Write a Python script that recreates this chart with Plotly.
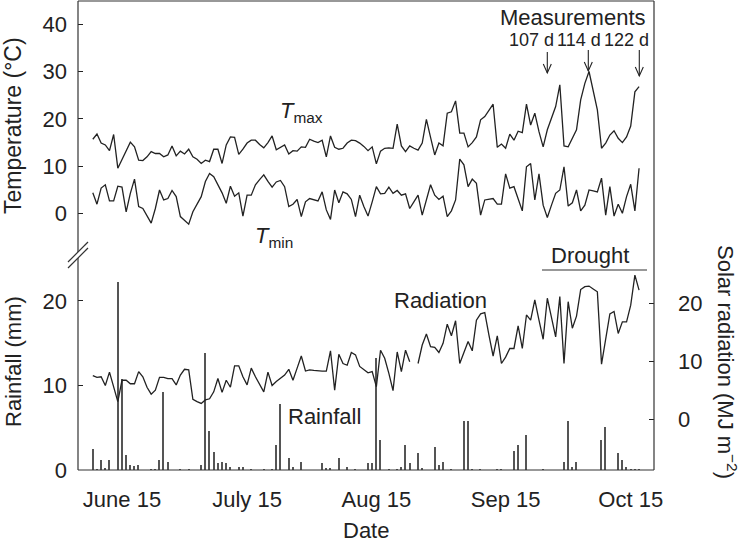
import plotly.graph_objects as go
import pandas as pd

# ---------------- data (daily, starting 8 June) ----------------
start_date = "2014-06-08"

tmax = [15.7, 16.8, 14.9, 14.5, 13.3, 16.7, 9.6, 11.5, 13.3, 15.1, 14.1, 11.3, 11.2, 12.0,
        13.1, 12.7, 12.7, 12.0, 12.4, 14.3, 12.2, 13.2, 12.6, 13.6, 12.0, 11.5,
        10.6, 11.3, 11.0, 13.6, 13.6, 10.6, 14.5, 16.2, 16.1, 12.5, 13.6, 14.9, 15.5, 15.5, 14.6,
        13.9, 15.0, 16.4, 13.5, 14.0, 14.5, 12.6, 13.3, 13.2, 14.1, 14.0, 15.7, 15.3,
        15.0, 15.5, 12.0, 16.4, 14.0, 13.6, 13.8, 14.9, 15.5, 15.4, 14.9, 14.2,
        13.3, 14.1, 10.5, 13.2, 13.8, 13.9, 13.8, 18.9, 14.3, 13.1, 14.3, 13.8,
        13.4, 14.9, 19.9, 16.1, 12.4, 14.9, 14.3, 21.2, 21.5, 23.8, 17.0, 17.0, 14.1, 15.0, 16.2, 19.8, 20.5, 21.8,
        23.1, 14.0, 14.7, 13.8, 16.8, 15.5, 17.4, 17.1, 23.1, 18.7, 21.2, 17.3, 14.1, 17.7, 20.2,
        22.6, 27.2, 14.3, 14.1, 15.9, 17.7, 24.0, 27.5, 30.0, 26.0,
        21.9, 13.8, 14.9, 16.6, 17.5, 15.9, 15.0, 16.2, 18.5, 25.7, 26.8]

tmin = [4.4, 2.0, 5.4, 6.1, 2.7, 2.7, 5.8, 5.6, 0.4, 4.3, 7.3, 1.5, 1.1, -0.5,
        -2.0, 1.1, 5.0, 2.9, 3.2, 4.9, 3.6, -0.6, -1.3, -2.2, 0.4, 2.0,
        3.6, 6.8, 8.5, 7.8, 6.1, 4.4, 2.2, 5.8, 3.7, 4.4, -0.5, 3.9, 3.9, 6.1, 7.2,
        8.2, 6.8, 5.6, 6.7, 7.0, 5.7, 1.5, 2.0, 3.0, -0.6, 2.5, 3.2, 3.0,
        2.7, 4.6, 0.8, -1.2, 5.0, 2.3, 4.6, 4.2, 3.0, -0.6, 3.9, 1.5,
        -0.5, 2.5, 5.7, 4.2, 4.3, 5.6, 4.3, 4.9, 3.9, 4.2, 1.1, 2.5,
        3.9, -0.3, 2.9, 6.1, 3.9, 3.0, 3.7, -0.6, 0.6, 2.9, 11.5, 10.3, 5.7, 7.3, 6.4, -0.3, 2.9, 3.0,
        3.2, 2.0, 2.0, 8.4, 5.4, 5.7, 3.2, 0.6, 9.9, 10.6, 2.9, 8.4, 1.8, -0.8, 1.8,
        4.3, 5.0, 9.9, 1.6, 2.3, 5.0, 0.6, 1.8, 5.0, 4.8,
        4.6, 7.5, -0.3, 5.7, -0.5, 2.0, 0.1, 3.6, 6.2, 0.6, 9.6]

radiation = [7.5, 7.2, 7.3, 5.8, 8.1, 5.6, 3.0, 6.7, 6.7, 6.1, 6.1, 8.2, 7.3, 5.5,
             4.3, 5.0, 7.2, 7.2, 7.0, 7.0, 5.9, 7.6, 8.6, 8.5, 3.4, 3.0,
             2.7, 3.3, 3.5, 4.7, 7.0, 4.6, 6.7, 5.5, 9.2, 9.2, 7.3, 5.9, 8.8, 7.3, 6.0,
             4.7, 8.1, 5.8, 6.5, 7.0, 7.6, 8.6, 6.7, 8.8, 10.9, 8.3, 8.5, 8.4,
             8.3, 8.3, 8.3, 11.8, 5.0, 11.2, 9.6, 9.3, 11.5, 11.1, 9.1, 8.6,
             8.0, 8.2, 5.6, 11.9, 10.5, 7.9, 4.9, 11.6, 8.2, 11.9, 9.9, None,
             9.6, 12.8, 14.7, 12.5, 12.4, 11.5, 13.1, 16.4, 14.4, 17.0, 9.6, 11.5, 13.4, 11.8, 17.1, 18.2, 18.4, 14.5,
             10.9, 14.4, 9.6, 10.7, 12.2, 12.2, 16.1, 12.2, 18.0, 17.1, 20.6, 17.1, 13.8, 20.9, 17.5,
             14.2, 21.2, 9.6, 20.3, 15.7, 17.8, 22.4, 22.9, 23.0, 22.5,
             22.0, 9.5, 13.7, 18.2, 18.6, 14.8, 16.8, 16.8, 19.7, 24.9, 22.3]

rainfall = [2.5, 0.1, 1.2, 0.2, 1.2, 0, 22.3, 10.8, 1.8, 0.6, 0.5, 0.6, 0, 0,
            0.1, 0.1, 1.2, 9.2, 1.0, 0, 0, 0.1, 0, 0.1, 0, 0,
            0.6, 13.8, 4.6, 2.1, 0.8, 0.9, 0.8, 0.3, 0, 0.3, 0.3, 0, 0.1, 0, 0,
            0.1, 0, 0.1, 2.9, 7.8, 0, 1.4, 0.3, 0, 1.0, 0, 0, 0,
            0, 0.8, 0.2, 0.2, 0, 1.4, 0, 0.3, 0, 0.1, 0, 0,
            0.8, 0.8, 13.3, 3.5, 0, 0.1, 0, 0.1, 0.3, 2.9, 0.8, 0,
            2.0, 0.2, 0, 0, 2.7, 0.6, 1.0, 0, 0.1, 0, 0, 5.8, 5.8, 0.1, 0, 0.1, 0, 0,
            0, 0.1, 0.1, 0, 0, 2.2, 2.9, 0, 4.1, 0, 0, 0, 0.1, 0, 0,
            0, 0, 1.0, 5.8, 0.3, 1.0, 0, 0, 0, 0,
            0, 3.5, 5.1, 0, 0, 2.0, 1.2, 0.3, 0.1, 0.1, 0.1]

tick_dates = ["2014-06-15", "2014-07-15", "2014-08-15", "2014-09-15", "2014-10-15"]
tick_text = ["June 15", "July 15", "Aug 15", "Sep 15", "Oct 15"]
temp_ticks = [0, 10, 20, 30, 40]
rain_ticks = [0, 10, 20]
solar_ticks = [0, 10, 20]

dates = pd.date_range(start_date, periods=len(tmax), freq="D")

# ---------------- layout helpers ----------------
W, H = 745, 543
ML, MR, MT, MB = 78, 91, 1, 73
PW = W - ML - MR
PH = H - MT - MB
FONT = "Liberation Sans, Arial, Helvetica, sans-serif"
INK = "#222222"


def px(x):
    return (x - ML) / PW


def py(y):
    return (H - MB - y) / PH


fig = go.Figure()

fig.add_trace(go.Bar(x=dates, y=rainfall, yaxis="y2", width=0.34 * 86400000,
                     marker=dict(color="#555555", line=dict(width=0)),
                     showlegend=False, hoverinfo="x+y"))
fig.add_trace(go.Scatter(x=dates, y=tmax, mode="lines", yaxis="y",
                         line=dict(color=INK, width=1.3), showlegend=False))
fig.add_trace(go.Scatter(x=dates, y=tmin, mode="lines", yaxis="y",
                         line=dict(color=INK, width=1.3), showlegend=False))
fig.add_trace(go.Scatter(x=dates, y=radiation, mode="lines", yaxis="y3",
                         connectgaps=False,
                         line=dict(color=INK, width=1.3), showlegend=False))

axis_common = dict(showgrid=False, zeroline=False, showline=False,
                   ticks="inside", ticklen=5, tickwidth=1, tickcolor=INK,
                   tickfont=dict(family=FONT, size=22, color=INK))

fig.update_layout(
    width=W, height=H, autosize=False,
    margin=dict(l=ML, r=MR, t=MT, b=MB),
    paper_bgcolor="white", plot_bgcolor="white",
    bargap=0,
    xaxis=dict(type="date", range=["2014-06-04 10:48", "2014-10-20 14:00"],
               tickvals=tick_dates, ticktext=tick_text, ticks="",
               showgrid=False, zeroline=False, showline=False,
               ticklabelstandoff=14,
               tickfont=dict(family=FONT, size=22, color=INK)),
    yaxis=dict(range=[-54.07, 44.87], tickvals=temp_ticks, side="left",
               ticklabelstandoff=10, **axis_common),
    yaxis2=dict(range=[0, 55.5], tickvals=rain_ticks, side="left", overlaying="y",
                ticklabelstandoff=10, **axis_common),
    yaxis3=dict(range=[-8.824, 72.32], tickvals=solar_ticks, side="right", overlaying="y",
                ticklabelstandoff=23, **axis_common),
)

# ---------------- frame with axis break ----------------
line_style = dict(color="#333333", width=1.2)
shapes = [
    dict(type="line", xref="paper", yref="paper", x0=px(ML), x1=px(654), y0=py(1), y1=py(1), line=line_style),
    dict(type="line", xref="paper", yref="paper", x0=px(654), x1=px(654), y0=py(1), y1=py(470), line=line_style),
    dict(type="line", xref="paper", yref="paper", x0=px(ML), x1=px(654), y0=py(470), y1=py(470), line=line_style),
    dict(type="line", xref="paper", yref="paper", x0=px(ML), x1=px(ML), y0=py(1), y1=py(252), line=line_style),
    dict(type="line", xref="paper", yref="paper", x0=px(ML), x1=px(ML), y0=py(258), y1=py(470), line=line_style),
    dict(type="line", xref="paper", yref="paper", x0=px(68), x1=px(88), y0=py(262), y1=py(242), line=line_style),
    dict(type="line", xref="paper", yref="paper", x0=px(68), x1=px(88), y0=py(268), y1=py(248), line=line_style),
    # drought bar
    dict(type="line", xref="paper", yref="paper", x0=px(542), x1=px(647), y0=py(270), y1=py(270), line=line_style),
]
# measurement arrows
for ax_, top, tip in [(547.3, 52, 73), (588.3, 50, 71), (639.3, 50, 76)]:
    shapes.append(dict(type="line", xref="paper", yref="paper", x0=px(ax_), x1=px(ax_),
                       y0=py(top), y1=py(tip), line=dict(color=INK, width=1.1)))
    shapes.append(dict(type="path", xref="paper", yref="paper",
                       path=f"M{px(ax_-4)},{py(tip-9)} L{px(ax_)},{py(tip)} L{px(ax_+4)},{py(tip-9)}",
                       line=dict(color=INK, width=1.1)))
fig.update_layout(shapes=shapes)


def label(text, x, y, size=22, angle=0, xanchor="center"):
    fig.add_annotation(text=text, x=px(x), y=py(y), xref="paper", yref="paper",
                       showarrow=False, textangle=angle, xanchor=xanchor, yanchor="middle",
                       font=dict(family=FONT, size=size, color=INK))


label("Temperature (°C)", 13, 126, size=23, angle=-90)
label("Rainfall (mm)", 13, 362, size=22, angle=-90)
label("Solar radiation (MJ m<sup>−2</sup>)", 727, 362, angle=90)
label("Date", 366, 530)
label("<i>T</i><sub>max</sub>", 301, 112)
label("<i>T</i><sub>min</sub>", 274, 237)
label("Measurements", 648, 17.5, xanchor="right")
label("107 d", 531, 40, size=18)
label("114 d", 578.5, 40, size=18)
label("122 d", 626, 40, size=18)
label("Radiation", 440, 300)
label("Rainfall", 324, 416.5)
label("Drought", 590, 255)

fig.write_html("out.html", config={"displayModeBar": False},
               post_script="document.body.style.margin='0px';")
